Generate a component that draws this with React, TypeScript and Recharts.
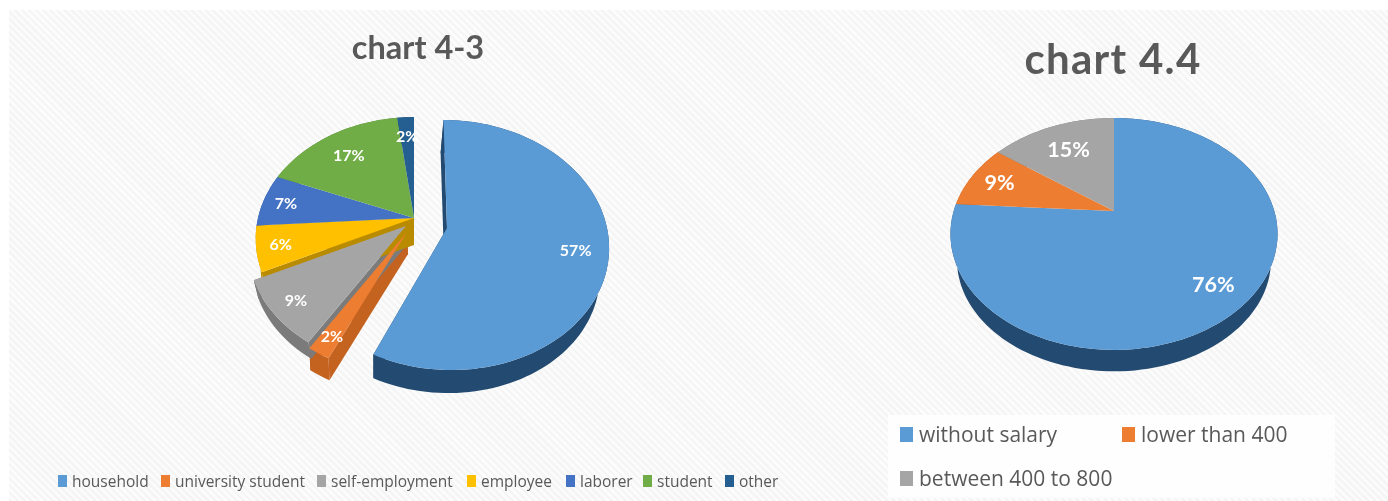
import React from 'react'
import { PieChart, Pie, Legend } from 'recharts'

const names43 = ['household', 'university student', 'self-employment', 'employee', 'laborer', 'student', 'other']
const values43 = [57, 2, 9, 6, 7, 17, 2]
const colors43 = ['#5B9BD5', '#ED7D31', '#A5A5A5', '#FFC000', '#4472C4', '#70AD47', '#255E91']
const sides43 = ['#234A70', '#C4621F', '#7B7B7B', '#B98B00', '#2F5597', '#507E32', '#1A4468']

const names44 = ['without salary', 'lower than 400', 'between 400 to 800']
const values44 = [76, 9, 15]
const colors44 = ['#5B9BD5', '#ED7D31', '#A5A5A5']
const sides44 = ['#234A70', '#B85F20', '#7B7B7B']

const FONT = 'Lato, "Open Sans", sans-serif'

interface Proj {
  x: number
  y: number
  a: number
  b: number
  k: number
  skew: number
  depth: number
  rim: number
  rimDx: number
  radial: boolean
}

// tilted pie plane, one per slice because the exploded slices sit on their own centre
const main43: Proj = { x: 414, y: 218, a: 156, b: 118, k: 0.17, skew: 0, depth: 24, rim: 0.97, rimDx: 0, radial: false }
const projs43: Proj[] = [
  { x: 447, y: 228, a: 160, b: 122.7, k: 0.136, skew: 4, depth: 28.7, rim: 0.96, rimDx: -3, radial: true },
  { ...main43, x: 407, y: 232, depth: 22, rim: 1, rimDx: 1, radial: true },
  { ...main43, x: 406, y: 226, depth: 20, radial: true },
  { ...main43, depth: 27, radial: true },
  main43,
  main43,
  main43,
]
const main44: Proj = { x: 1114, y: 211, a: 160.3, b: 111.4, k: 0.198, skew: 0, depth: 27, rim: 0.96, rimDx: 0, radial: false }
const projs44: Proj[] = [main44, main44, main44]

const labelR43 = [0.8, 0.87, 0.85, 0.85, 0.85, 0.75, 0.8]
const labelR44 = [0.8, 0.8, 0.7]

const RAD = Math.PI / 180

function project(p: Proj, deg: number, r = 1) {
  // recharts angle: 90 is up, decreasing is clockwise
  const u = Math.cos(deg * RAD) * r
  const v = -Math.sin(deg * RAD) * r
  const w = 1 - p.k * v
  return { x: p.x + (p.a * u + p.skew * v) / w, y: p.y + (p.b * v) / w }
}

function rimPoint(p: Proj, pt: { x: number; y: number }) {
  return { x: p.x + p.rimDx + (pt.x - p.x) * p.rim, y: p.y + p.depth + (pt.y - p.y) * p.rim }
}

function arc(p: Proj, start: number, end: number) {
  const n = Math.max(2, Math.ceil(Math.abs(end - start) / 2))
  const pts = []
  for (let i = 0; i <= n; i++) pts.push(project(p, start + ((end - start) * i) / n))
  return pts
}

const toPath = (pts: { x: number; y: number }[]) =>
  'M' + pts.map((q) => `${q.x.toFixed(1)},${q.y.toFixed(1)}`).join('L') + 'Z'

function makeTop(projs: Proj[]) {
  return function TopShape(props: any) {
    const p = projs[props.index ?? 0]
    const pts = [{ x: p.x, y: p.y }, ...arc(p, props.startAngle, props.endAngle)]
    return <path d={toPath(pts)} fill={props.fill} />
  }
}

function makeSide(projs: Proj[]) {
  return function SideShape(props: any) {
    const p = projs[props.index ?? 0]
    const top = arc(p, props.startAngle, props.endAngle)
    const low = top.map((q) => rimPoint(p, q))
    const apex = { x: p.x, y: p.y }
    const apexLow = rimPoint(p, apex)
    const first = top[0]
    const last = top[top.length - 1]
    return (
      <g fill={props.fill}>
        <path d={toPath([...top, ...low.slice().reverse()])} />
        {p.radial && <path d={toPath([apex, first, rimPoint(p, first), apexLow])} />}
        {p.radial && <path d={toPath([apex, last, rimPoint(p, last), apexLow])} />}
      </g>
    )
  }
}

function makeLabel(projs: Proj[], radii: number[], size: number) {
  return function SliceLabel(props: any) {
    const p = projs[props.index ?? 0]
    const mid = (props.startAngle + props.endAngle) / 2
    const pos = project(p, mid, radii[props.index ?? 0])
    return (
      <text
        x={pos.x}
        y={pos.y}
        fill="#FFFFFF"
        fontFamily={FONT}
        fontWeight={700}
        fontSize={size}
        textAnchor="middle"
        dominantBaseline="central"
      >
        {props.value}%
      </text>
    )
  }
}

function makeLegend(xs: number[], ys: number[], size: number, boxW: number, boxH: number, gap: number) {
  return function ChartLegend(props: any) {
    const items = (props.payload ?? []).filter((item: any) => item.type !== 'none')
    return (
      <>
        {items.map((item: any, i: number) => (
          <div
            key={item.value}
            style={{
              position: 'absolute',
              left: xs[i],
              top: ys[i] - 15,
              height: 30,
              display: 'flex',
              alignItems: 'center',
              whiteSpace: 'nowrap',
              fontFamily: '"Open Sans", sans-serif',
              fontSize: size,
              color: '#595959',
            }}
          >
            <span style={{ width: boxW, height: boxH, marginRight: gap, background: item.color ?? item.payload?.fill }} />
            {item.value}
          </div>
        ))}
      </>
    )
  }
}

const toData = (names: string[], values: number[], colors: string[]) =>
  names.map((name, i) => ({ name, value: values[i], fill: colors[i] }))

const data43 = toData(names43, values43, colors43)
const sideData43 = toData(names43, values43, sides43)
const data44 = toData(names44, values44, colors44)
const sideData44 = toData(names44, values44, sides44)

const legendX43 = [58, 161, 317, 467, 566, 643, 725]
const legendY43 = [481, 481, 481, 481, 481, 481, 481]
const legendX44 = [900, 1122, 900]
const legendY44 = [434, 434, 478]

const chartStyle: React.CSSProperties = { position: 'absolute', left: 0, top: 0 }
const legendWrap: React.CSSProperties = { position: 'absolute', left: 0, top: 0, width: 0, height: 0 }

export default function App() {
  return (
    <div style={{ position: 'absolute', left: 0, top: 0, width: 1388, height: 501, background: '#fff', overflow: 'hidden' }}>
      <div
        style={{
          position: 'absolute',
          left: 9,
          top: 10,
          right: 0,
          bottom: 0,
          background: 'repeating-linear-gradient(45deg, #f5f5f5 0 2.5px, #fcfcfc 2.5px 5px)',
        }}
      />
      <div style={{ position: 'absolute', left: 888, top: 415, width: 447, height: 83, background: '#fefefe' }} />

      <div style={{ ...chartStyle, filter: 'blur(0.6px)' }}>
        <PieChart width={1388} height={501} margin={{ top: 0, right: 0, bottom: 0, left: 0 }}>
          <text x={418} y={59} textAnchor="middle" fontFamily={FONT} fontWeight={700} fontSize={32.5} fill="#595959">
            chart 4-3
          </text>
          <Pie
            data={sideData43}
            dataKey="value"
            nameKey="name"
            cx={414}
            cy={218}
            outerRadius={100}
            startAngle={90}
            endAngle={-270}
            stroke="none"
            legendType="none"
            shape={makeSide(projs43)}
            isAnimationActive={false}
          />
          <Pie
            data={data43}
            dataKey="value"
            nameKey="name"
            cx={414}
            cy={218}
            outerRadius={100}
            startAngle={90}
            endAngle={-270}
            stroke="none"
            shape={makeTop(projs43)}
            label={makeLabel(projs43, labelR43, 16)}
            labelLine={false}
            isAnimationActive={false}
          />
          <Legend content={makeLegend(legendX43, legendY43, 15.5, 9, 12, 5)} wrapperStyle={legendWrap} itemSorter={null} />
        </PieChart>
      </div>

      <div style={{ ...chartStyle, filter: 'blur(0.6px)' }}>
        <PieChart width={1388} height={501} margin={{ top: 0, right: 0, bottom: 0, left: 0 }}>
          <text x={1113} y={74} textAnchor="middle" fontFamily={FONT} fontWeight={700} fontSize={42} letterSpacing={1.3} fill="#595959">
            chart 4.4
          </text>
          <Pie
            data={sideData44}
            dataKey="value"
            nameKey="name"
            cx={1114}
            cy={211}
            outerRadius={100}
            startAngle={90}
            endAngle={-270}
            stroke="none"
            legendType="none"
            shape={makeSide(projs44)}
            isAnimationActive={false}
          />
          <Pie
            data={data44}
            dataKey="value"
            nameKey="name"
            cx={1114}
            cy={211}
            outerRadius={100}
            startAngle={90}
            endAngle={-270}
            stroke="none"
            shape={makeTop(projs44)}
            label={makeLabel(projs44, labelR44, 21.5)}
            labelLine={false}
            isAnimationActive={false}
          />
          <Legend content={makeLegend(legendX44, legendY44, 21, 13, 15, 6)} wrapperStyle={legendWrap} itemSorter={null} />
        </PieChart>
      </div>
    </div>
  )
}
